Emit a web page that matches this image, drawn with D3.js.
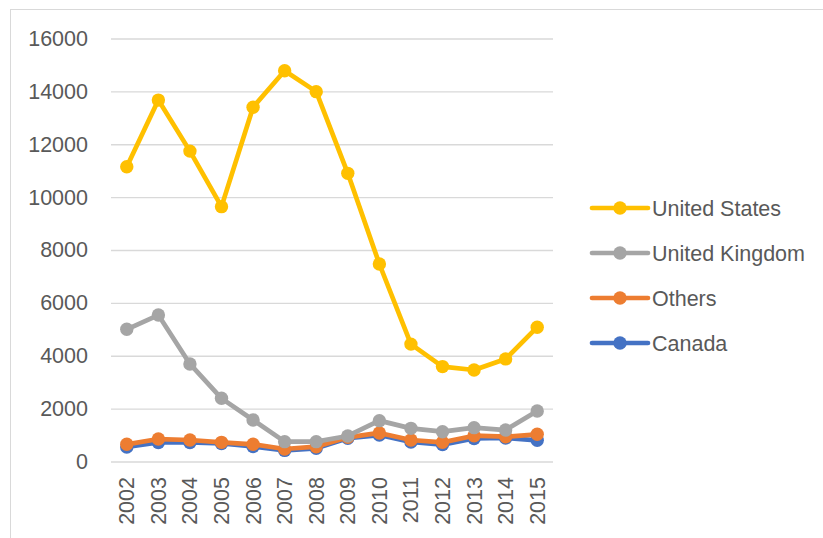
<!DOCTYPE html>
<html>
<head>
<meta charset="utf-8">
<script src="https://cdn.jsdelivr.net/npm/d3@7"></script>
<style>
  body { margin: 0; background: #fff; }
  text { font-family: "Liberation Sans", Arial, sans-serif; fill: #595959; }
</style>
</head>
<body>
<div id="chart-area"></div>
<script>
var years = ["2002","2003","2004","2005","2006","2007","2008","2009","2010","2011","2012","2013","2014","2015"];
var usValues = [11150, 13670, 11740, 9640, 13400, 14780, 13990, 10900, 7470, 4440, 3590, 3460, 3880, 5080];
var ukValues = [5000, 5540, 3690, 2390, 1570, 750, 750, 965, 1545, 1254, 1128, 1280, 1190, 1910];
var othersValues = [650, 850, 813, 725, 650, 473, 560, 915, 1080, 813, 725, 976, 938, 1028];
var canadaValues = [550, 720, 720, 680, 570, 420, 500, 880, 1000, 740, 640, 870, 890, 800];
var yTicks = [0, 2000, 4000, 6000, 8000, 10000, 12000, 14000, 16000];

// draw order: bottom first
var series = [
  { name: "Canada", values: canadaValues, color: "#4472C4" },
  { name: "Others", values: othersValues, color: "#ED7D31" },
  { name: "United Kingdom", values: ukValues, color: "#A5A5A5" },
  { name: "United States", values: usValues, color: "#FFC000" }
];
var legendOrder = ["United States", "United Kingdom", "Others", "Canada"];

var W = 823, H = 538;
var margin = { left: 111, top: 38.5, right: 270, bottom: 76.5 };
var width = W - margin.left - margin.right;
var height = H - margin.top - margin.bottom;

var svg = d3.select("#chart-area")
    .append("svg")
    .attr("width", W)
    .attr("height", H);

// chart frame
svg.append("rect")
    .attr("x", 10.5)
    .attr("y", 9.5)
    .attr("width", W)
    .attr("height", H)
    .attr("fill", "none")
    .attr("stroke", "#d9d9d9")
    .attr("stroke-width", 1);

var g = svg.append("g")
    .attr("transform", "translate(" + margin.left + "," + margin.top + ")");

var x = d3.scaleBand()
    .domain(years)
    .range([0, width]);
var y = d3.scaleLinear()
    .domain([0, 16000])
    .range([height, 0]);

// gridlines
var yAxisCall = d3.axisLeft(y)
    .tickValues(yTicks)
    .tickSize(-width)
    .tickPadding(23)
    .tickFormat(function(d){ return d; });
var yAxis = g.append("g")
    .attr("class", "y axis")
    .call(yAxisCall);
yAxis.select(".domain").remove();
yAxis.selectAll("line")
    .attr("stroke", "#d9d9d9")
    .attr("stroke-width", 1.3);
yAxis.selectAll("text")
    .attr("font-size", "21.5px")
    .attr("font-family", "Liberation Sans, Arial, sans-serif")
    .attr("fill", "#595959");

var xAxisCall = d3.axisBottom(x)
    .tickSize(0)
    .tickPadding(0);
var xAxis = g.append("g")
    .attr("class", "x axis")
    .attr("transform", "translate(0," + height + ")")
    .call(xAxisCall);
xAxis.select(".domain").remove();
xAxis.selectAll("text")
    .attr("font-size", "21.5px")
    .attr("font-family", "Liberation Sans, Arial, sans-serif")
    .attr("fill", "#595959")
    .attr("transform", "rotate(-90)")
    .attr("x", -15.5)
    .attr("y", 0)
    .attr("dy", "0.35em")
    .style("text-anchor", "end");

var line = d3.line()
    .x(function(d, i){ return x(years[i]) + x.bandwidth() / 2; })
    .y(function(d){ return y(d); });

series.forEach(function(s){
  var sg = g.append("g").attr("class", "series");
  sg.append("path")
      .datum(s.values)
      .attr("d", line)
      .attr("fill", "none")
      .attr("stroke", s.color)
      .attr("stroke-width", 4.7)
      .attr("stroke-linejoin", "round")
      .attr("stroke-linecap", "round");
  sg.selectAll("circle")
      .data(s.values)
      .enter()
      .append("circle")
      .attr("cx", function(d, i){ return x(years[i]) + x.bandwidth() / 2; })
      .attr("cy", function(d){ return y(d); })
      .attr("r", 6.7)
      .attr("fill", s.color);
});

// legend
var colorOf = {};
series.forEach(function(s){ colorOf[s.name] = s.color; });
var legend = svg.append("g")
    .attr("transform", "translate(592,208)");
var items = legend.selectAll("g")
    .data(legendOrder)
    .enter()
    .append("g")
    .attr("transform", function(d, i){ return "translate(0," + (i * 45) + ")"; });
items.append("line")
    .attr("x1", 0)
    .attr("x2", 56)
    .attr("stroke", function(d){ return colorOf[d]; })
    .attr("stroke-width", 4.7)
    .attr("stroke-linecap", "round");
items.append("circle")
    .attr("cx", 28)
    .attr("r", 6.7)
    .attr("fill", function(d){ return colorOf[d]; });
items.append("text")
    .attr("x", 60)
    .attr("dy", "0.35em")
    .attr("font-size", "21.5px")
    .text(function(d){ return d; });
</script>
</body>
</html>
